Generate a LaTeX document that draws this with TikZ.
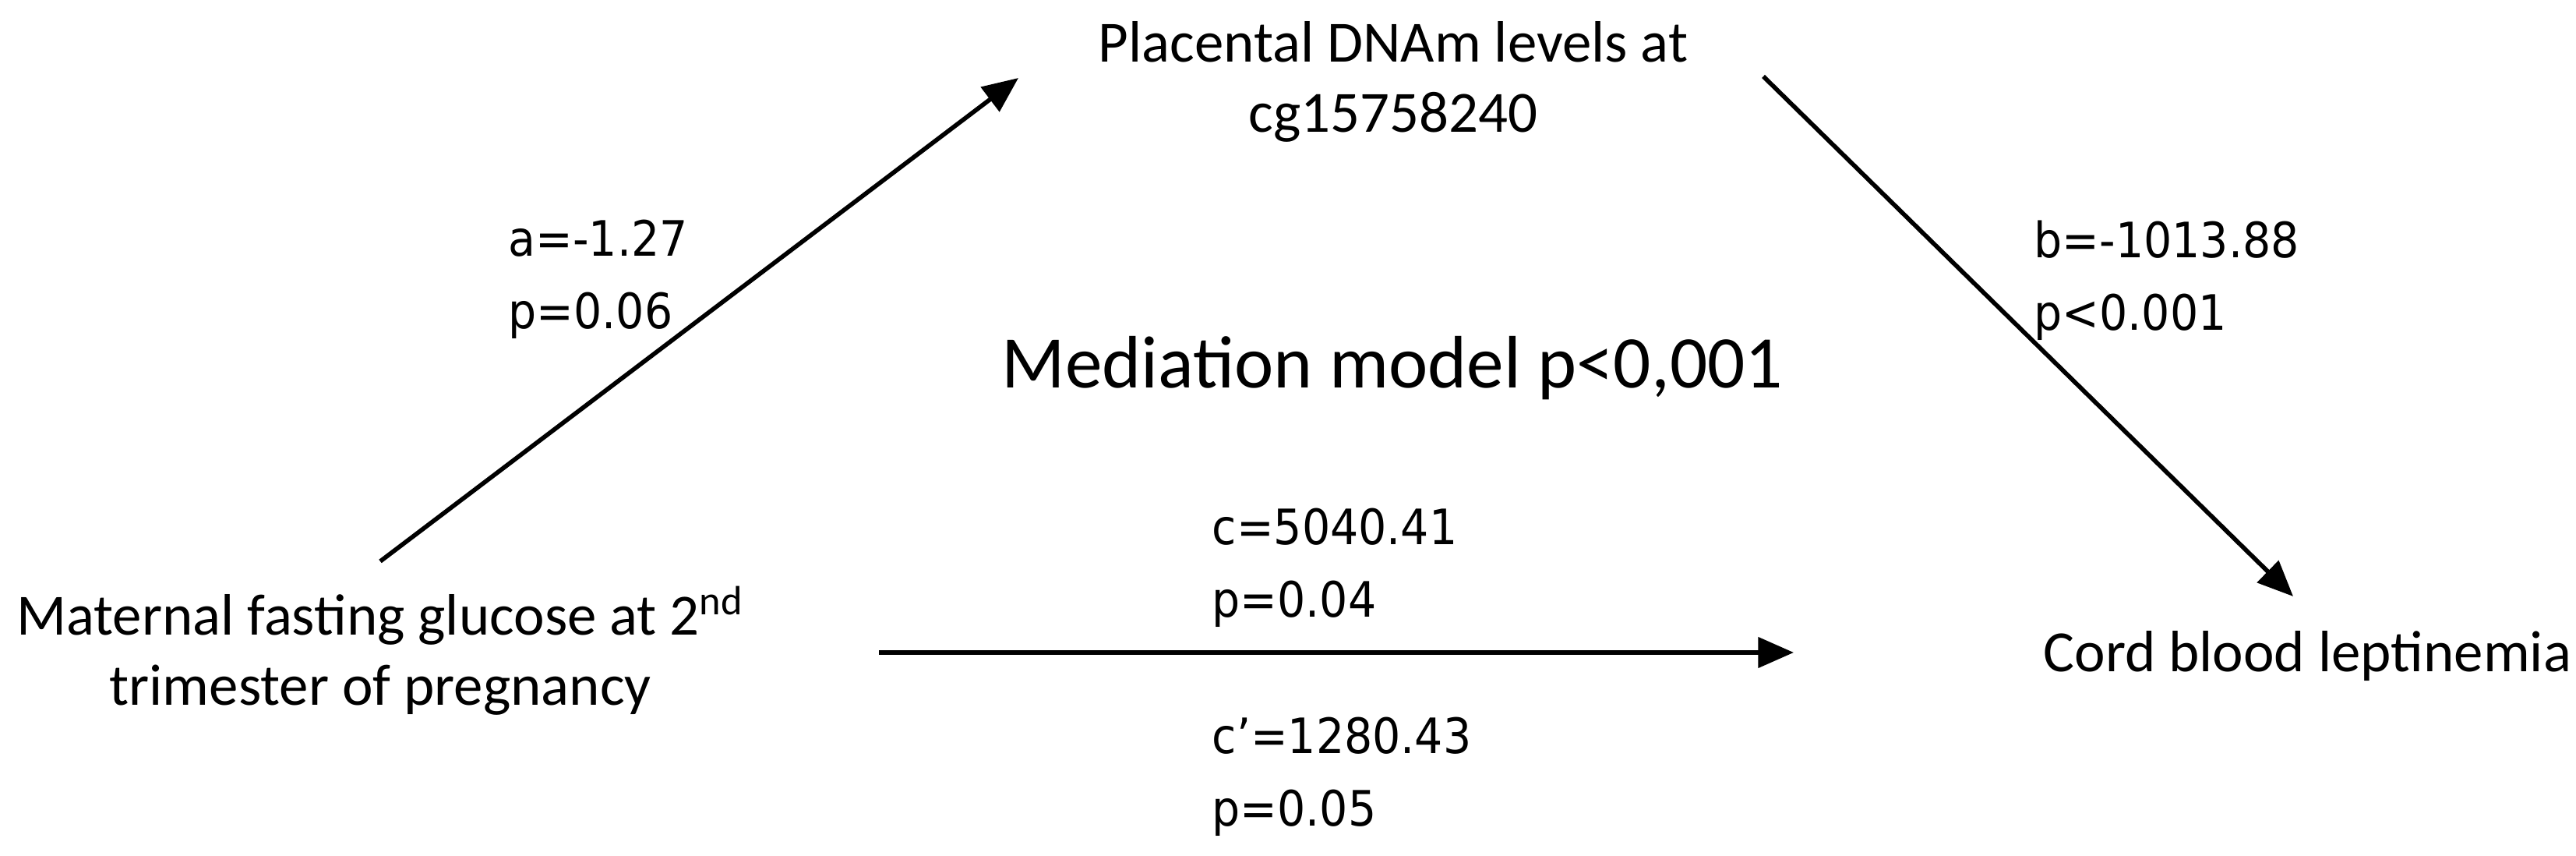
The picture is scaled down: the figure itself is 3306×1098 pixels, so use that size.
\documentclass[tikz,border=0pt]{standalone}
\usepackage{fontspec}
\setmainfont{Carlito}
\newfontfamily\coeffont[FakeStretch=0.91]{DejaVu Sans}
\usetikzlibrary{arrows.meta}
\begin{document}
\begin{tikzpicture}[x=0.01cm,y=-0.01cm]
    \tikzset{
        varnode/.style={inner sep=0pt, align=center, font=\fontsize{21.3}{25.6}\selectfont},
        coef/.style={inner sep=0pt, align=left, anchor=base west, font=\coeffont\fontsize{17.8}{26.5}\selectfont},
        effect/.style={line width=1.6pt, -{Triangle[length=13pt,width=11pt]}},}
    \useasboundingbox (0,0) rectangle (3306,1098);
    % the three variables (base = last line)
    \node[varnode, anchor=base] (glucose) at (488,905) {Maternal fasting glucose at 2\textsuperscript{nd}\\trimester of pregnancy};
    \node[varnode, anchor=base] (dnam) at (1788,170) {Placental DNAm levels at\\cg15758240};
    \node[varnode, anchor=base west] (leptin) at (2622,862) {Cord blood leptinemia};
    \node[inner sep=0pt, anchor=base, font=\fontsize{27.1}{32}\selectfont] (model) at (1787,498) {Mediation model p<0,001};
    % arrow ends
    \coordinate (a0) at (488,720);
    \coordinate (a1) at (1307,100);
    \coordinate (b0) at (2263,98);
    \coordinate (b1) at (2943,765);
    \coordinate (c0) at (1128,837);
    \coordinate (c1) at (2302,837);
    \draw[effect] (a0) -- (a1);
    \draw[effect] (b0) -- (b1);
    \draw[effect] (c0) -- (c1);
    % coefficients
    \node[coef] (coefa) at (652,422) {a=-1.27\\p=0.06};
    \node[coef] (coefb) at (2610,424) {b=-1013.88\\p<0.001};
    \node[coef] (coefc) at (1555,792) {c=5040.41\\p=0.04};
    \node[coef] (coefcc) at (1555,1060) {c’=1280.43\\p=0.05};
\end{tikzpicture}
\end{document}
